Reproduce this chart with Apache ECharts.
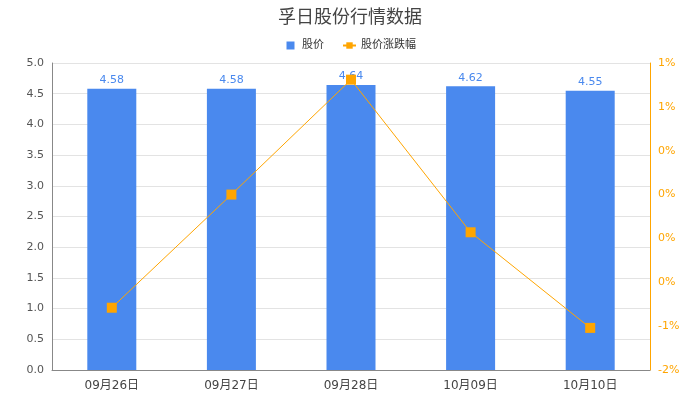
<!DOCTYPE html>
<html>
<head>
<meta charset="utf-8">
<script src="https://cdn.jsdelivr.net/npm/echarts@6/dist/echarts.min.js"></script>
<style>
	html, body { margin: 0; padding: 0; background: #fff; }
	#main { width: 700px; height: 400px; }
</style>
</head>
<body>
<div id="main"></div>
<script>
// 日期
var dates = ["09月26日", "09月27日", "09月28日", "10月09日", "10月10日"];
// 股价
var prices = [4.58, 4.58, 4.64, 4.62, 4.55];
// 股价涨跌幅 (%)
var changes = [-1.29, 0.00, 1.31, -0.43, -1.52];
// 右轴刻度文字（自下而上）
var rightTickLabels = ["-2%", "-1%", "0%", "0%", "0%", "0%", "1%", "1%"];
var rightMin = -2;
var rightStep = 0.5;

var font = "'DejaVu Sans', 'Noto Sans CJK SC', sans-serif";

var myCharts = echarts.init(document.getElementById("main"));
var option = {
	animation : false,
	textStyle : { fontFamily : font },
	title : {
		text : "孚日股份行情数据",
		left : "center",
		top : 4,
		textStyle : { fontSize : 18, fontWeight : "normal", color : "#444", fontFamily : font }
	},
	legend : {
		top : 35,
		left : "center",
		itemWidth : 13,
		itemHeight : 8,
		itemGap : 18,
		textStyle : { fontSize : 11, color : "#333" },
		data : [
			// 方形图标，左右留空
			{ name : "股价", icon : "path://M0,4L0,4M2.5,0L10.5,0L10.5,8L2.5,8ZM13,4L13,4" },
			{ name : "股价涨跌幅" }
		]
	},
	grid : { left : 52, right : 50, top : 63, bottom : 30 },
	xAxis : {
		type : "category",
		data : dates,
		axisLine : { lineStyle : { color : "#888" } },
		axisTick : { show : false },
		axisLabel : { color : "#444", fontSize : 12, margin : 10 }
	},
	yAxis : [{
		type : "value",
		min : 0,
		max : 5,
		interval : 0.5,
		axisLine : { show : true, lineStyle : { color : "#888" } },
		axisTick : { show : false },
		axisLabel : {
			color : "#555",
			fontSize : 11,
			formatter : function(v) { return v.toFixed(1); }
		},
		splitLine : { lineStyle : { color : "#e3e3e3" } }
	}, {
		type : "value",
		min : rightMin,
		max : 1.5,
		interval : rightStep,
		axisLine : { show : true, lineStyle : { color : "#FFA500" } },
		axisTick : { show : false },
		axisLabel : {
			color : "#FFA500",
			fontSize : 11,
			formatter : function(v) {
				var i = Math.round((v - rightMin) / rightStep);
				return rightTickLabels[i];
			}
		},
		splitLine : { show : false }
	}],
	series : [{
		name : "股价",
		type : "bar",
		data : prices,
		barWidth : 49,
		itemStyle : { color : "#4A89EE" },
		label : { show : true, position : "top", color : "#4A89EE", fontSize : 11, distance : 3 }
	}, {
		name : "股价涨跌幅",
		type : "line",
		yAxisIndex : 1,
		data : changes,
		symbol : "rect",
		symbolSize : 10,
		itemStyle : { color : "#FFA500" },
		lineStyle : { color : "#FFA500", width : 1 }
	}]
};
myCharts.setOption(option);
</script>
</body>
</html>
